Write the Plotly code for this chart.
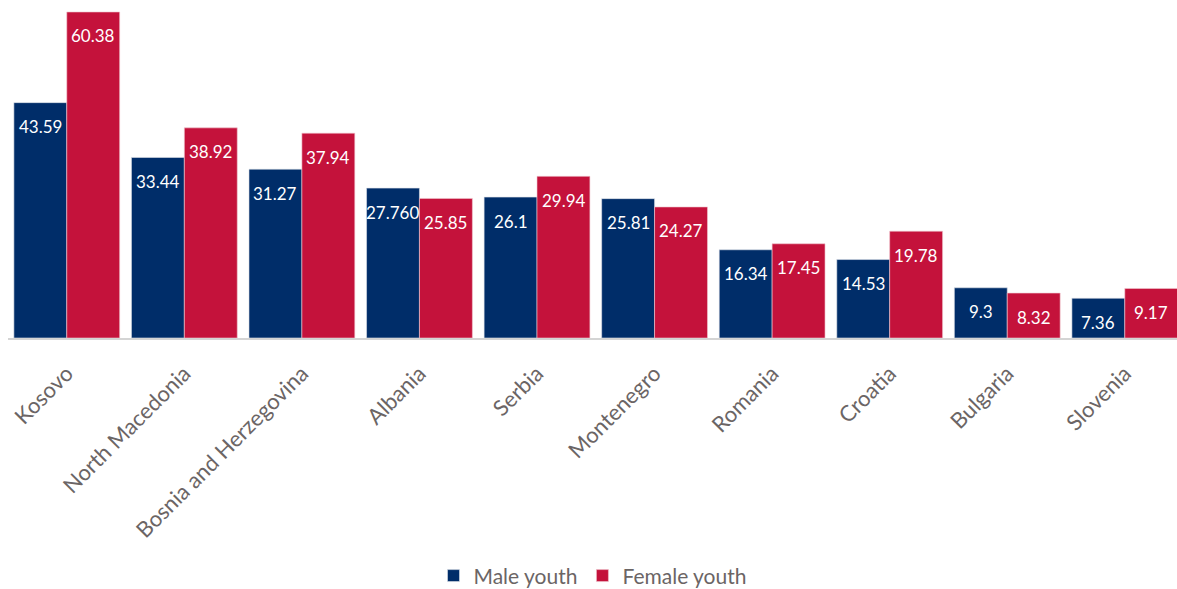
import plotly.graph_objects as go

countries = ["Kosovo", "North Macedonia", "Bosnia and Herzegovina", "Albania", "Serbia",
             "Montenegro", "Romania", "Croatia", "Bulgaria", "Slovenia"]
male = [43.59, 33.44, 31.27, 27.76, 26.1, 25.81, 16.34, 14.53, 9.3, 7.36]
male_labels = ["43.59", "33.44", "31.27", "27.760", "26.1", "25.81", "16.34", "14.53", "9.3", "7.36"]
female = [60.38, 38.92, 37.94, 25.85, 29.94, 24.27, 17.45, 19.78, 8.32, 9.17]
female_labels = ["60.38", "38.92", "37.94", "25.85", "29.94", "24.27", "17.45", "19.78", "8.32", "9.17"]

NAVY = "#002D69"
RED = "#C4123B"
GRAY = "#6B6565"
FONT = "Lato, 'Open Sans', sans-serif"

fig = go.Figure()
fig.add_trace(go.Bar(name="Male youth", x=countries, y=male, marker_color=NAVY,
                     marker_line=dict(color="#dfe3ea", width=0.6)))
fig.add_trace(go.Bar(name="Female youth", x=countries, y=female, marker_color=RED,
                     marker_line=dict(color="#f0c8d0", width=0.6)))

annotations = []
for i, c in enumerate(countries):
    annotations.append(dict(x=c, y=male[i], xref="x", yref="y", text=male_labels[i],
                            showarrow=False, xshift=-26.5, yshift=-24,
                            font=dict(color="white", size=17, family=FONT)))
    annotations.append(dict(x=c, y=female[i], xref="x", yref="y", text=female_labels[i],
                            showarrow=False, xshift=26.5, yshift=-24,
                            font=dict(color="white", size=17, family=FONT)))

fig.update_layout(
    width=1177, height=589,
    margin=dict(l=8, r=0, t=0, b=251, autoexpand=False),
    plot_bgcolor="white", paper_bgcolor="white",
    barmode="group", bargap=0.1, bargroupgap=0,
    font=dict(family=FONT, color=GRAY),
    annotations=annotations,
    legend=dict(orientation="h", x=0.5, xanchor="center", y=-0.704, yanchor="middle",
                font=dict(size=21, color=GRAY, family=FONT), itemwidth=30,
                traceorder="normal"),
    xaxis=dict(range=[-0.5, 9.444], tickangle=-45, tickfont=dict(size=22, color=GRAY, family=FONT),
               showline=True, linecolor="#d4d4d4", linewidth=2, ticks="", showgrid=False,
               automargin=False, ticklabelstandoff=12),
    yaxis=dict(range=[0, 62.6], visible=False, showgrid=False, zeroline=False, automargin=False),
)

fig.write_html("out.html")
